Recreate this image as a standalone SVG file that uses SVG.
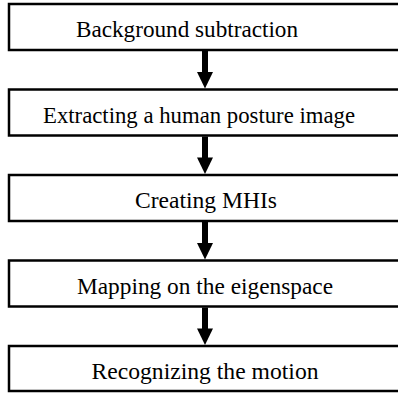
<svg xmlns="http://www.w3.org/2000/svg" width="398" height="393" viewBox="0 0 398 393">
<style>
.box{fill:#fff;stroke:#000;stroke-width:2.5}
.t{font-family:"Liberation Serif","Times New Roman",Times,serif;font-size:23px;fill:#000;text-anchor:middle}
.shaft{stroke:#000;stroke-width:6}
.head{fill:#000}
</style>
<rect width="398" height="393" fill="#fff"/>
<g id="n1"><rect class="box" x="9" y="4" width="395" height="46"/><text class="t" x="187" y="37" textLength="222" lengthAdjust="spacingAndGlyphs">Background subtraction</text></g>
<g id="n2"><rect class="box" x="9" y="89.5" width="395" height="46"/><text class="t" x="199" y="122.5" textLength="312" lengthAdjust="spacingAndGlyphs">Extracting a human posture image</text></g>
<g id="n3"><rect class="box" x="9" y="175" width="395" height="46"/><text class="t" x="206" y="208" textLength="142" lengthAdjust="spacingAndGlyphs">Creating MHIs</text></g>
<g id="n4"><rect class="box" x="9" y="260.5" width="395" height="46"/><text class="t" x="205" y="293.5" textLength="256" lengthAdjust="spacingAndGlyphs">Mapping on the eigenspace</text></g>
<g id="n5"><rect class="box" x="9" y="346" width="395" height="45"/><text class="t" x="205" y="379" textLength="227" lengthAdjust="spacingAndGlyphs">Recognizing the motion</text></g>
<g id="connectors">
<line class="shaft" x1="205" y1="51" x2="205" y2="73"/><polygon class="head" points="197,72 213,72 205,88.5"/>
<line class="shaft" x1="205" y1="136.5" x2="205" y2="158.5"/><polygon class="head" points="197,157.5 213,157.5 205,174"/>
<line class="shaft" x1="205" y1="222" x2="205" y2="244"/><polygon class="head" points="197,243 213,243 205,259.5"/>
<line class="shaft" x1="205" y1="307.5" x2="205" y2="329.5"/><polygon class="head" points="197,328.5 213,328.5 205,345"/>
</g>
</svg>
